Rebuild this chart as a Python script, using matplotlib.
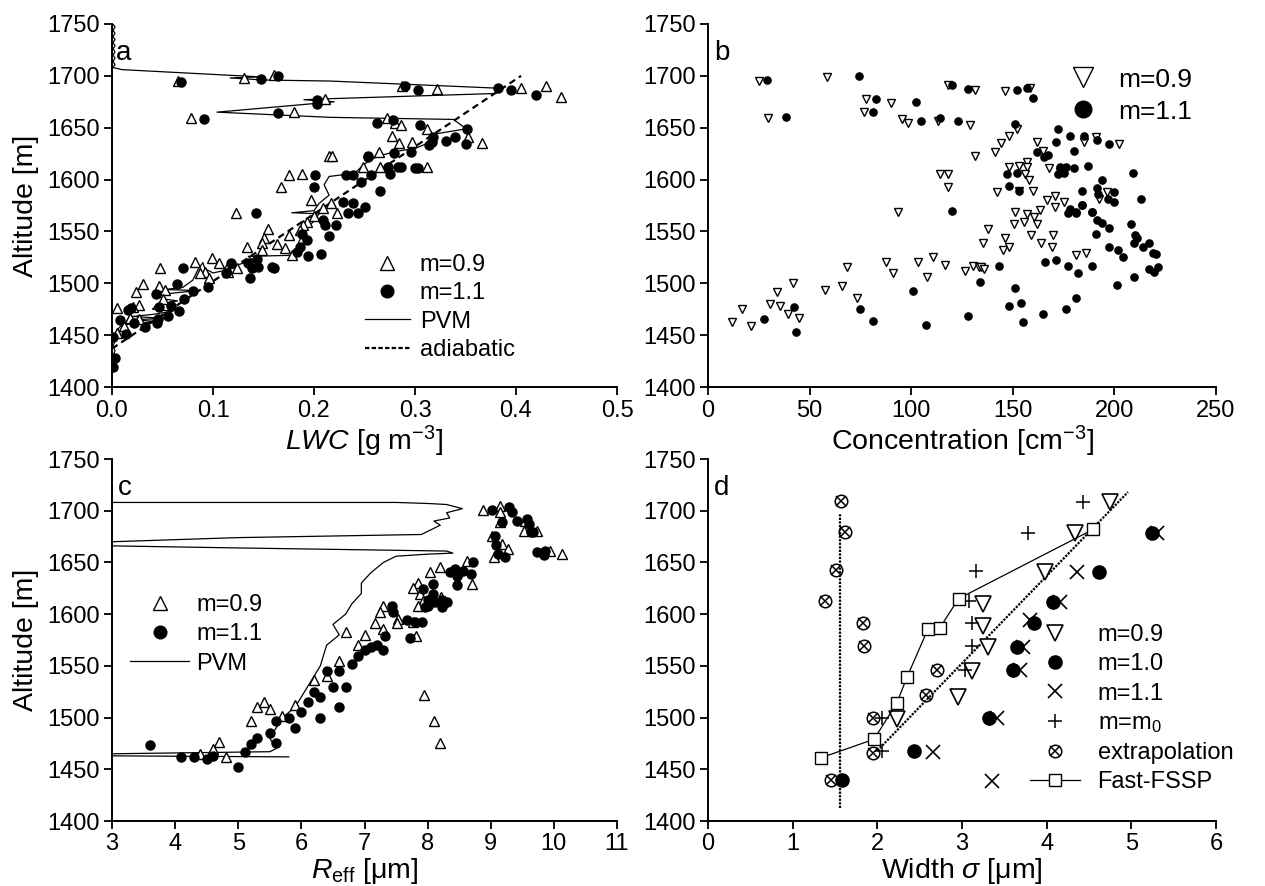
import matplotlib.pyplot as plt
import matplotlib.lines as mlines
import numpy as np

plt.rcParams['font.family'] = ['Liberation Sans', 'DejaVu Sans']
plt.rcParams['mathtext.fontset'] = 'custom'
plt.rcParams['mathtext.rm'] = 'Liberation Sans'
plt.rcParams['mathtext.it'] = 'Liberation Sans:italic'

# ---------------- panel a : LWC ----------------
a_tri_x = [0.065, 0.131, 0.160, 0.211, 0.180, 0.078, 0.215, 0.175, 0.188, 0.167, 0.197,
           0.287, 0.322, 0.272, 0.280, 0.286, 0.312, 0.352, 0.366, 0.277, 0.284, 0.297,
           0.264, 0.249, 0.265, 0.312, 0.218, 0.209, 0.217, 0.223, 0.123, 0.200, 0.193,
           0.189, 0.186, 0.175, 0.163, 0.171, 0.178, 0.154, 0.150, 0.149, 0.149, 0.134,
           0.124, 0.114, 0.115, 0.099, 0.106, 0.092, 0.087, 0.096, 0.082, 0.048, 0.047,
           0.052, 0.050, 0.031, 0.024, 0.027, 0.005, 0.021, 0.027, 0.018, 0.012, 0.005,
           0.405, 0.430, 0.445]
a_tri_y = [1695, 1698, 1701, 1678, 1665, 1659, 1623, 1604, 1605, 1593, 1580,
           1690, 1687, 1659, 1655, 1653, 1649, 1641, 1635, 1642, 1635, 1636,
           1627, 1612, 1612, 1612, 1623, 1573, 1577, 1568, 1568, 1565, 1559,
           1556, 1551, 1547, 1538, 1534, 1527, 1552, 1544, 1539, 1532, 1535,
           1515, 1515, 1511, 1524, 1520, 1511, 1510, 1505, 1521, 1515, 1497,
           1494, 1485, 1499, 1492, 1479, 1476, 1477, 1466, 1467, 1459, 1452,
           1688, 1690, 1680]
a_dot_x = [0.068, 0.148, 0.164, 0.203, 0.203, 0.164, 0.091, 0.201, 0.200, 0.253,
           0.290, 0.303, 0.382, 0.262, 0.278, 0.305, 0.351, 0.350, 0.340, 0.331,
           0.318, 0.317, 0.314, 0.296, 0.279, 0.253, 0.273, 0.283, 0.286, 0.300,
           0.303, 0.275, 0.256, 0.247, 0.265, 0.232, 0.239, 0.229, 0.239, 0.234,
           0.244, 0.250, 0.143, 0.209, 0.211, 0.222, 0.215, 0.207, 0.194, 0.193,
           0.188, 0.186, 0.183, 0.135, 0.144, 0.139, 0.137, 0.145, 0.158, 0.160,
           0.118, 0.113, 0.070, 0.080, 0.095, 0.064, 0.071, 0.044, 0.047, 0.058,
           0.066, 0.055, 0.016, 0.019, 0.008, 0.022, 0.033, 0.045, 0.046, 0.014,
           0.001, 0.003, 0.001, 0.395, 0.420]
a_dot_y = [1694, 1697, 1700, 1677, 1673, 1664, 1658, 1604, 1593, 1623,
           1690, 1686, 1688, 1655, 1657, 1653, 1649, 1634, 1641, 1637,
           1641, 1636, 1633, 1627, 1626, 1622, 1612, 1612, 1612, 1611,
           1611, 1605, 1604, 1598, 1589, 1604, 1604, 1578, 1577, 1568,
           1568, 1574, 1568, 1561, 1556, 1556, 1546, 1528, 1526, 1542,
           1548, 1535, 1530, 1520, 1523, 1515, 1505, 1516, 1516, 1515,
           1520, 1510, 1515, 1493, 1496, 1499, 1485, 1490, 1477, 1478,
           1473, 1468, 1474, 1476, 1465, 1462, 1458, 1462, 1466, 1451,
           1448, 1428, 1419, 1686, 1682]
a_pvm_x = [0.001, 0.003, 0.001, 0.003, 0.001, 0.003, 0.001, 0.003, 0.001, 0.003,
           0.001, 0.003, 0.001, 0.003, 0.001, 0.010,
           0.147, 0.117, 0.150, 0.216, 0.385,
           0.380, 0.216, 0.190, 0.220, 0.104, 0.216, 0.338, 0.345, 0.351, 0.320,
           0.315, 0.300, 0.280, 0.262, 0.250, 0.240, 0.215, 0.210, 0.215, 0.205,
           0.200, 0.178, 0.205, 0.200, 0.190, 0.185, 0.180, 0.135, 0.140, 0.125,
           0.115, 0.100, 0.092, 0.090, 0.085, 0.080, 0.070, 0.052, 0.085, 0.065,
           0.045, 0.050, 0.065, 0.045, 0.040, 0.060, 0.040, 0.020, 0.055, 0.020,
           0.045, 0.010, 0.005, 0.002, 0.003, 0.001, 0.003, 0.001, 0.003, 0.001]
a_pvm_y = [1750, 1747, 1744, 1741, 1738, 1735, 1732, 1729, 1726, 1723,
           1720, 1717, 1714, 1711, 1708, 1706,
           1699, 1698, 1696, 1695, 1688,
           1683, 1678, 1677, 1675, 1665, 1660, 1658, 1653, 1649, 1644,
           1636, 1630, 1627, 1622, 1615, 1606, 1603, 1595, 1585, 1577,
           1570, 1568, 1567, 1560, 1550, 1540, 1527, 1526, 1522, 1518,
           1513, 1510, 1514, 1520, 1513, 1503, 1496, 1494, 1493, 1491,
           1489, 1485, 1483, 1480, 1475, 1473, 1470, 1468, 1466, 1465,
           1463, 1460, 1455, 1448, 1444, 1440, 1435, 1430, 1425, 1418]
a_adiab_x = [0.0, 0.405]
a_adiab_y = [1437, 1700]

# ---------------- panel b : concentration ----------------
b_tri_x = [25, 58.6, 29.6, 77.8, 76.8, 90, 95.6, 98.5, 113, 129, 118, 131.5, 131.5,
           114, 118, 118, 93.6, 146, 158.6, 141, 144, 148, 152, 162, 191, 185, 202.5,
           165, 168, 173, 148, 153, 157, 157, 156, 158, 160, 153, 142, 196.5, 192.6,
           167, 171, 175, 171, 163.5, 151, 157, 160.6, 12, 16.7, 21, 30.5, 35.5, 34,
           39.4, 42, 44.8, 57.6, 66, 68.5, 73.4, 87.7, 91, 103.4, 110.8, 107.9, 116.7,
           126.6, 130.5, 133.5, 162, 155.7, 150.7, 138, 146, 148, 145, 135.5, 159, 164,
           169.5, 170, 181, 186, 134.5, 136]
b_tri_y = [1695, 1699, 1659, 1678, 1665, 1674, 1658, 1655, 1656, 1653, 1691, 1686, 1623,
           1605, 1605, 1593, 1569, 1685, 1688, 1627, 1635, 1642, 1649, 1636, 1641, 1636, 1634,
           1628, 1611, 1607, 1612, 1613, 1617, 1612, 1605, 1600, 1589, 1589, 1588, 1588, 1581,
           1580, 1584, 1578, 1574, 1571, 1569, 1567, 1564, 1463, 1475, 1459, 1480, 1478, 1492,
           1470, 1500, 1467, 1494, 1497, 1516, 1486, 1521, 1510, 1521, 1525, 1506, 1518,
           1512, 1517, 1516, 1557, 1559, 1557, 1552, 1544, 1535, 1532, 1539, 1547, 1539,
           1535, 1547, 1527, 1529, 1516, 1514]
b_dot_x = [29, 74.4, 38.4, 82.8, 81.3, 102.5, 105, 114, 123, 120, 128, 120,
           152, 157, 160, 151, 172, 171.5, 178, 185, 191.6, 197.5, 180, 162, 165.5, 167.5,
           187, 180, 173, 176, 175, 172, 147, 152, 148, 153, 209, 194, 191.6, 192, 197,
           200, 200, 184, 213, 184, 178, 177, 181, 189, 27.6, 42.4, 43.3, 75, 81, 101,
           107.4, 128, 134, 181, 184, 189, 191.6, 194, 197.5, 191, 208, 210, 211, 209.5,
           214, 217, 219, 220.5, 217, 219.7, 221.7, 209.4, 201.5, 197.5, 202, 204, 166,
           171.4, 177, 182, 189, 143, 151, 148, 154, 155, 165, 176, 181]
b_dot_y = [1696, 1700, 1660, 1678, 1665, 1675, 1656, 1659, 1656, 1691, 1687, 1570,
           1686, 1688, 1679, 1654, 1649, 1636, 1642, 1642, 1638, 1634, 1628, 1627, 1622, 1624,
           1613, 1611, 1612, 1612, 1606, 1605, 1605, 1606, 1594, 1589, 1606, 1600, 1592, 1586, 1581,
           1578, 1588, 1589, 1581, 1575, 1572, 1568, 1569, 1569, 1466, 1477, 1453, 1475, 1464, 1493,
           1460, 1468, 1501, 1568, 1575, 1569, 1561, 1558, 1553, 1548, 1557, 1547, 1544, 1539,
           1535, 1539, 1529, 1528, 1514, 1511, 1516, 1506, 1498, 1535, 1532, 1525, 1521,
           1522, 1517, 1510, 1517, 1517, 1495, 1478, 1481, 1463, 1470, 1475, 1486]

# ---------------- panel c : effective radius ----------------
c_tri_x = [8.88, 9.15, 9.15, 9.15, 9.55, 9.52, 9.73, 9.02, 9.18, 9.28, 9.05, 9.94, 10.13,
           8.63, 8.20, 8.03, 8.70, 7.85, 7.77, 7.88, 7.93, 7.85, 8.21, 7.29, 7.25, 7.17,
           7.53, 7.52, 7.77, 7.29, 7.82, 4.4, 4.6, 4.7, 4.8, 5.2, 5.3, 5.4, 5.5, 5.7,
           5.9, 6.2, 6.4, 6.6, 6.9, 7.0, 6.7, 7.95, 8.1, 8.2]
c_tri_y = [1701, 1705, 1699, 1689, 1690, 1680, 1680, 1676, 1668, 1663, 1655, 1661, 1658,
           1651, 1646, 1641, 1629, 1630, 1625, 1619, 1613, 1608, 1617, 1608, 1602, 1591,
           1595, 1591, 1592, 1586, 1579, 1465, 1470, 1476, 1462, 1497, 1510, 1515, 1508, 1502,
           1512, 1536, 1540, 1555, 1570, 1580, 1583, 1522, 1497, 1475]
c_dot_x = [9.02, 9.29, 9.34, 9.18, 9.42, 9.58, 9.60, 9.63, 9.67, 9.07, 9.09, 9.12, 9.23,
           9.73, 9.86, 9.84, 8.72, 8.36, 8.44, 8.48, 8.47, 8.56, 8.69, 8.47, 8.09, 7.93,
           8.09, 8.01, 8.12, 8.23, 8.31, 8.01, 8.23, 7.96, 7.44, 7.45, 7.33, 7.68, 7.80,
           7.91, 7.72, 3.6, 4.1, 4.3, 4.5, 4.6, 5.0, 5.1, 5.2, 5.3, 5.5, 5.6, 5.8, 6.0,
           6.1, 6.2, 6.3, 6.5, 6.4, 6.6, 6.8, 6.9, 7.0, 7.1, 7.2, 7.3, 6.7, 6.6, 6.3, 5.9, 5.6]
c_dot_y = [1701, 1704, 1699, 1689, 1690, 1692, 1687, 1679, 1679, 1676, 1667, 1658, 1655,
           1660, 1661, 1657, 1650, 1641, 1644, 1639, 1637, 1642, 1639, 1628, 1629, 1624,
           1619, 1614, 1612, 1614, 1612, 1608, 1607, 1607, 1608, 1602, 1579, 1594, 1592,
           1592, 1577, 1473, 1462, 1462, 1460, 1463, 1452, 1467, 1474, 1480, 1485, 1497, 1500, 1505,
           1515, 1525, 1520, 1530, 1545, 1545, 1552, 1560, 1565, 1568, 1570, 1565, 1530, 1510, 1500, 1490, 1475]
c_pvm_x = [3.0, 7.5, 8.0, 8.3, 8.55, 8.3, 8.35, 8.1, 8.2, 8.0, 7.9, 5.0, 3.0, 3.0, 5.0,
           8.3, 8.4, 8.0, 7.5, 7.3, 7.1, 6.95, 6.95, 6.8, 6.7, 6.5, 6.6, 6.4, 6.35, 6.3,
           6.2, 6.1, 6.0, 5.9, 5.7, 5.6, 5.5, 5.6, 5.5, 3.0, 3.0, 5.8]
c_pvm_y = [1708, 1708, 1707, 1706, 1702, 1698, 1693, 1690, 1686, 1680, 1677, 1674, 1670, 1666, 1664,
           1661, 1659, 1658, 1656, 1650, 1640, 1630, 1620, 1610, 1600, 1590, 1580, 1570, 1560, 1550,
           1540, 1530, 1520, 1510, 1500, 1490, 1480, 1470, 1467, 1465, 1463, 1462]

# ---------------- panel d : width ----------------
d_m09_x = [4.75, 4.33, 3.98, 3.25, 3.25, 3.31, 3.12, 2.95, 2.23]
d_m09_y = [1708, 1678, 1641, 1610, 1589, 1568, 1545, 1520, 1499]
d_m10_x = [5.24, 4.62, 4.07, 3.85, 3.65, 3.60, 3.32, 2.43, 1.58]
d_m10_y = [1678, 1641, 1612, 1591, 1568, 1546, 1500, 1468, 1440]
d_m11_x = [5.30, 4.36, 4.16, 3.80, 3.72, 3.68, 3.41, 2.66, 3.35]
d_m11_y = [1678, 1641, 1612, 1594, 1568, 1546, 1500, 1467, 1439]
d_m0_x = [4.43, 3.78, 3.16, 3.08, 3.12, 3.12, 3.04, 2.06, 2.05]
d_m0_y = [1708, 1678, 1642, 1613, 1591, 1569, 1546, 1500, 1468]
d_ext_x = [1.57, 1.62, 1.51, 1.38, 1.83, 1.84, 2.71, 2.58, 1.95, 1.95, 1.45]
d_ext_y = [1709, 1679, 1643, 1613, 1591, 1569, 1546, 1522, 1500, 1466, 1440]
d_fssp_x = [1.33, 1.96, 2.23, 2.35, 2.60, 2.74, 2.96, 4.55]
d_fssp_y = [1461, 1479, 1514, 1539, 1586, 1587, 1615, 1682]
d_vert_x = [1.56, 1.56]
d_vert_y = [1413, 1698]
d_diag_x = [2.0, 4.96]
d_diag_y = [1468, 1718]

fig = plt.figure(figsize=(12.65, 8.86), dpi=100)
W, H = 1265, 886
TICK = 17
LEG = 17


def make_ax(l, r, t, b, ylabel=True):
    ax = fig.add_axes([l / W, 1 - b / H, (r - l) / W, (b - t) / H])
    ax.spines['top'].set_visible(False)
    ax.spines['right'].set_visible(False)
    for s in ['left', 'bottom']:
        ax.spines[s].set_linewidth(1.4)
    ax.tick_params(direction='out', length=6, width=1.3, labelsize=TICK, pad=3)
    ax.set_ylim(1400, 1750)
    ax.set_yticks(np.arange(1400, 1751, 50))
    if ylabel:
        ax.set_ylabel('Altitude [m]', fontsize=20.5, labelpad=6)
    return ax


def ax_xy(px, py, l, r, t, b):
    # pixel position -> axes fraction
    return ((px - l) / (r - l), (b - py) / (b - t))


tri_kw = dict(marker='^', ms=7.5, mfc='white', mec='black', mew=1.0, ls='none')
dot_kw = dict(marker='o', ms=6.5, mfc='black', mec='black', ls='none')
leg_kw = dict(frameon=False, fontsize=LEG, loc='upper left', borderpad=0, borderaxespad=0)

# panel a
ax = make_ax(112, 617, 24, 387)
ax.set_xlim(0, 0.5)
ax.set_xticks(np.arange(0, 0.51, 0.1))
ax.set_xticklabels(['0.0', '0.1', '0.2', '0.3', '0.4', '0.5'])
ax.plot(a_pvm_x, a_pvm_y, color='black', lw=0.9)
ax.plot(a_adiab_x, a_adiab_y, color='black', lw=1.6, ls=(0, (3, 2)))
h1, = ax.plot(a_tri_x, a_tri_y, **tri_kw)
h2, = ax.plot(a_dot_x, a_dot_y, **dot_kw)
hp = mlines.Line2D([], [], color='black', lw=0.9)
ha = mlines.Line2D([], [], color='black', lw=1.6, ls=(0, (2, 1)))
ax.legend([h1, h2, hp, ha], ['m=0.9', 'm=1.1', 'PVM', 'adiabatic'],
          bbox_to_anchor=ax_xy(365, 254, 112, 617, 24, 387), handlelength=1.9,
          handletextpad=0.42, labelspacing=0.27, markerscale=1.4, **leg_kw)
ax.set_xlabel('$LWC$ [g m$^{-3}$]', fontsize=20.5, labelpad=2)
ax.text(0.008, 0.9, 'a', transform=ax.transAxes, fontsize=20)

# panel b
ax = make_ax(708, 1216, 24, 387, ylabel=False)
ax.set_xlim(0, 250)
ax.set_xticks(np.arange(0, 251, 50))
hb1, = ax.plot(b_tri_x, b_tri_y, marker='v', ms=6, mfc='white', mec='black', mew=1.0, ls='none')
hb2, = ax.plot(b_dot_x, b_dot_y, marker='o', ms=5.2, mfc='black', mec='black', ls='none')
ax.legend([hb1, hb2], ['m=0.9', 'm=1.1'], frameon=False, fontsize=19, loc='upper right',
          bbox_to_anchor=(1.0, 0.945), markerscale=2.3, handlelength=1.4,
          handletextpad=0.65, labelspacing=0.3)
ax.set_xlabel('Concentration [cm$^{-3}$]', fontsize=20.5, labelpad=2)
ax.text(0.012, 0.9, 'b', transform=ax.transAxes, fontsize=20)

# panel c
ax = make_ax(112, 617, 459, 821)
ax.set_xlim(3, 11)
ax.set_xticks(np.arange(3, 12, 1))
ax.plot(c_pvm_x, c_pvm_y, color='black', lw=0.9)
hc1, = ax.plot(c_tri_x, c_tri_y, **tri_kw)
hc2, = ax.plot(c_dot_x, c_dot_y, **dot_kw)
hcp = mlines.Line2D([], [], color='black', lw=0.9)
ax.legend([hc1, hc2, hcp], ['m=0.9', 'm=1.1', 'PVM'],
          bbox_to_anchor=ax_xy(130, 594, 112, 617, 459, 821), handlelength=2.5,
          handletextpad=0.3, labelspacing=0.31, markerscale=1.4, **leg_kw)
ax.set_xlabel('$R_{\\mathrm{eff}}$ [μm]', fontsize=20.5, labelpad=0)
ax.text(0.012, 0.9, 'c', transform=ax.transAxes, fontsize=20)

# panel d
ax = make_ax(708, 1216, 459, 821, ylabel=False)
ax.set_xlim(0, 6)
ax.set_xticks(np.arange(0, 7, 1))
ax.plot(d_vert_x, d_vert_y, color='black', lw=1.6, ls=(0, (1, 0.6)))
ax.plot(d_diag_x, d_diag_y, color='black', lw=1.6, ls=(0, (1, 0.6)))
hd1, = ax.plot(d_m09_x, d_m09_y, marker='v', ms=11, mfc='white', mec='black', mew=1.2, ls='none')
hd2, = ax.plot(d_m10_x, d_m10_y, marker='o', ms=9.5, mfc='black', mec='black', ls='none')
hd3, = ax.plot(d_m11_x, d_m11_y, marker='x', ms=10, mec='black', mew=1.2, ls='none')
hd4, = ax.plot(d_m0_x, d_m0_y, marker='+', ms=10, mec='black', mew=1.1, ls='none')
hd5a, = ax.plot(d_ext_x, d_ext_y, marker='o', ms=9, mfc='none', mec='black', mew=1.1, ls='none')
hd5b, = ax.plot(d_ext_x, d_ext_y, marker='x', ms=6.5, mec='black', mew=1.1, ls='none')
hd6, = ax.plot(d_fssp_x, d_fssp_y, color='black', lw=0.9, marker='s', ms=9, mfc='white',
               mec='black', mew=1.0)
ax.legend([hd1, hd2, hd3, hd4, (hd5a, hd5b), hd6],
          ['m=0.9', 'm=1.0', 'm=1.1', 'm=m$_0$', 'extrapolation', 'Fast-FSSP'],
          bbox_to_anchor=ax_xy(1030, 624, 708, 1216, 459, 821), handlelength=2.1,
          handletextpad=0.76, labelspacing=0.31, **leg_kw)
ax.set_xlabel('Width $\\sigma$ [μm]', fontsize=20.5, labelpad=0)
ax.text(0.012, 0.9, 'd', transform=ax.transAxes, fontsize=20)

fig.savefig('out.png', dpi=100)
